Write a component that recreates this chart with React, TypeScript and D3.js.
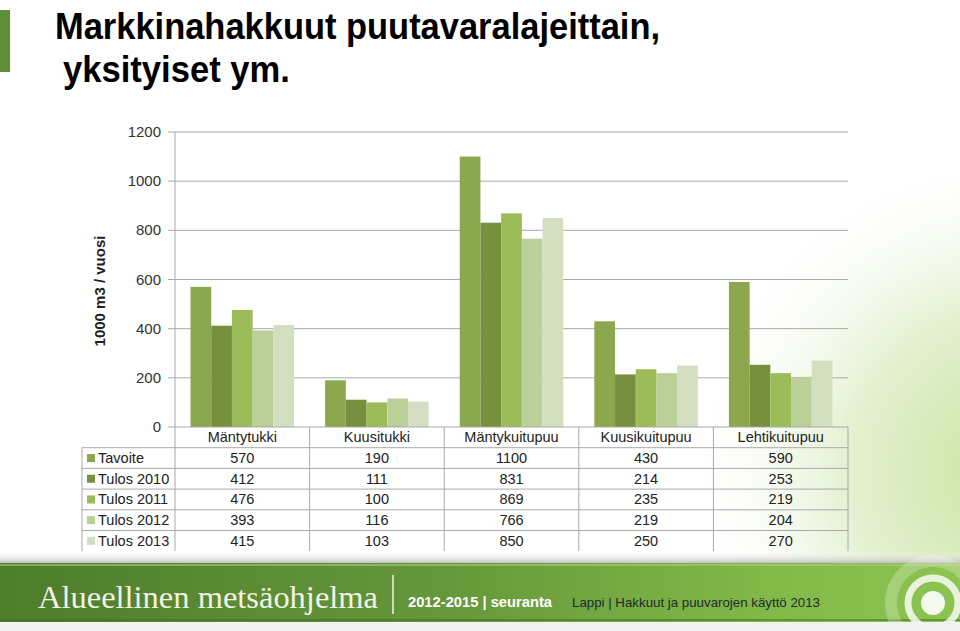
import React from "react";
import * as d3 from "d3";

const categories = ["Mäntytukki", "Kuusitukki", "Mäntykuitupuu", "Kuusikuitupuu", "Lehtikuitupuu"];
const seriesNames = ["Tavoite", "Tulos 2010", "Tulos 2011", "Tulos 2012", "Tulos 2013"];
const tavoite = [570, 190, 1100, 430, 590];
const tulos2010 = [412, 111, 831, 214, 253];
const tulos2011 = [476, 100, 869, 235, 219];
const tulos2012 = [393, 116, 766, 219, 204];
const tulos2013 = [415, 103, 850, 250, 270];
const seriesValues = [tavoite, tulos2010, tulos2011, tulos2012, tulos2013];
const seriesColors = ["#8BA84E", "#76903E", "#9CBC5A", "#BAD098", "#D3DFC0"];
const yTicks = [0, 200, 400, 600, 800, 1000, 1200];

const W = 960;
const H = 631;
const plotLeft = 175;
const plotRight = 848;
const plotTop = 132;
const plotBottom = 427;
const rowH = 20.7;
const tableLeft = 82;
const FONT = "'Liberation Sans', Arial, sans-serif";

export default function App() {
  const x = d3.scaleBand<string>().domain(categories).range([plotLeft, plotRight]);
  const xs = d3
    .scaleBand<string>()
    .domain(seriesNames)
    .range([0, x.bandwidth()])
    .paddingInner(0)
    .paddingOuter(0.75);
  const y = d3.scaleLinear().domain([0, 1200]).range([plotBottom, plotTop]);

  const tableBottom = plotBottom + rowH * 6;
  const gridColor = "#A9A9A9";

  return (
    <svg
      width={W}
      height={H}
      style={{ position: "absolute", left: 0, top: 0, fontFamily: FONT }}
    >
      <defs>
        <radialGradient id="bgGlow" cx="1010" cy="470" r="330" gradientUnits="userSpaceOnUse">
          <stop offset="0" stopColor="#C9E3A0" />
          <stop offset="0.5" stopColor="#E4F1D2" />
          <stop offset="1" stopColor="#FFFFFF" stopOpacity="0" />
        </radialGradient>
        <linearGradient id="footerGrad" x1="0" x2="1" y1="0" y2="0">
          <stop offset="0" stopColor="#4E7D2B" />
          <stop offset="0.45" stopColor="#65963A" />
          <stop offset="0.8" stopColor="#82B948" />
          <stop offset="1" stopColor="#8DC351" />
        </linearGradient>
        <linearGradient id="shadowGrad" x1="0" x2="0" y1="0" y2="1">
          <stop offset="0" stopColor="#FFFFFF" stopOpacity="0" />
          <stop offset="1" stopColor="#B8B8B8" />
        </linearGradient>
        <clipPath id="logoClip">
          <rect x={0} y={540} width={W} height={82} />
        </clipPath>
      </defs>

      <rect x={0} y={0} width={W} height={H} fill="#FFFFFF" />
      <rect x={0} y={0} width={W} height={H} fill="url(#bgGlow)" />

      {/* left accent bar */}
      <rect x={0} y={10} width={10} height={62} fill="#5E8E35" />

      {/* title */}
      <text x={55} y={39} fontSize={36} fontWeight="bold" fill="#000" textLength={605} lengthAdjust="spacingAndGlyphs">
        Markkinahakkuut puutavaralajeittain,
      </text>
      <text x={63} y={82} fontSize={36} fontWeight="bold" fill="#000" textLength={227} lengthAdjust="spacingAndGlyphs">
        yksityiset ym.
      </text>

      {/* gridlines */}
      {yTicks.filter((t) => t > 0).map((t) => (
        <line key={"g" + t} x1={plotLeft} x2={plotRight} y1={y(t)} y2={y(t)} stroke={gridColor} strokeWidth={1} />
      ))}

      {/* y ticks and labels */}
      {yTicks.map((t) => (
        <g key={"t" + t}>
          <line x1={plotLeft - 7} x2={plotLeft} y1={y(t)} y2={y(t)} stroke={gridColor} />
          <text x={161} y={y(t) + 5} fontSize={15} textAnchor="end" fill="#333">
            {t}
          </text>
        </g>
      ))}

      {/* y axis title */}
      <text
        transform={`translate(105, 291) rotate(-90)`}
        fontSize={15}
        fontWeight="bold"
        textAnchor="middle"
        fill="#222"
      >
        1000 m3 / vuosi
      </text>

      {/* bars */}
      {seriesValues.map((vals, si) =>
        vals.map((v, ci) => (
          <rect
            key={`b${si}-${ci}`}
            x={(x(categories[ci]) as number) + (xs(seriesNames[si]) as number)}
            y={y(v)}
            width={xs.bandwidth()}
            height={y(0) - y(v)}
            fill={seriesColors[si]}
          />
        ))
      )}

      {/* axis line */}
      <line x1={plotLeft} x2={plotLeft} y1={plotTop} y2={tableBottom} stroke={gridColor} />
      <line x1={plotLeft} x2={plotRight} y1={plotBottom} y2={plotBottom} stroke={gridColor} />

      {/* data table */}
      {categories.map((c, ci) => (
        <line
          key={"v" + ci}
          x1={(x(c) as number) + x.bandwidth()}
          x2={(x(c) as number) + x.bandwidth()}
          y1={plotBottom}
          y2={tableBottom}
          stroke={gridColor}
        />
      ))}
      <line x1={tableLeft} x2={tableLeft} y1={plotBottom + rowH} y2={tableBottom} stroke={gridColor} />
      {seriesNames.map((s, si) => (
        <line
          key={"h" + si}
          x1={tableLeft}
          x2={plotRight}
          y1={plotBottom + rowH * (si + 1)}
          y2={plotBottom + rowH * (si + 1)}
          stroke={gridColor}
        />
      ))}
      {categories.map((c) => (
        <text
          key={"c" + c}
          x={(x(c) as number) + x.bandwidth() / 2}
          y={plotBottom + rowH / 2 + 5}
          fontSize={14.5}
          textAnchor="middle"
          fill="#222"
        >
          {c}
        </text>
      ))}
      {seriesNames.map((s, si) => {
        const cy = plotBottom + rowH * (si + 1) + rowH / 2;
        return (
          <g key={"r" + s}>
            <rect x={87} y={cy - 4} width={8} height={8} fill={seriesColors[si]} />
            <text x={98} y={cy + 5} fontSize={14.5} fill="#222">
              {s}
            </text>
            {seriesValues[si].map((v, ci) => (
              <text
                key={"val" + ci}
                x={(x(categories[ci]) as number) + x.bandwidth() / 2}
                y={cy + 5}
                fontSize={14.5}
                textAnchor="middle"
                fill="#222"
              >
                {v}
              </text>
            ))}
          </g>
        );
      })}

      {/* footer */}
      <rect x={0} y={551} width={W} height={13} fill="url(#shadowGrad)" />
      <rect x={0} y={622} width={W} height={9} fill="#F2F2F2" />
      <rect x={0} y={563} width={W} height={59} fill="url(#footerGrad)" />
      <rect x={0} y={564} width={W} height={2} fill="#A8CF7C" opacity={0.6} />
      <rect x={0} y={619} width={W} height={2} fill="#3E6A1E" opacity={0.5} />

      <g clipPath="url(#logoClip)">
        <circle cx={933} cy={603} r={42} fill="none" stroke="#FFFFFF" strokeOpacity={0.25} strokeWidth={12} />
        <circle cx={933} cy={603} r={25} fill="none" stroke="#FFFFFF" strokeOpacity={0.8} strokeWidth={7} />
        <circle cx={933} cy={603} r={12} fill="#FFFFFF" fillOpacity={0.9} />
      </g>

      <text
        x={38}
        y={608}
        fontSize={31}
        fontFamily="'Liberation Serif', serif"
        fill="#F2F2E6"
        textLength={340}
        lengthAdjust="spacingAndGlyphs"
      >
        Alueellinen metsäohjelma
      </text>
      <line x1={393} x2={393} y1={575} y2={614} stroke="#F2F2E6" strokeWidth={1.5} />
      <text x={408} y={607} fontSize={14} fontWeight="bold" fill="#FFFFFF" textLength={144} lengthAdjust="spacingAndGlyphs">
        2012-2015 | seuranta
      </text>
      <text x={572} y={607} fontSize={13} fill="#1E2A2E" textLength={248} lengthAdjust="spacingAndGlyphs">
        Lappi | Hakkuut ja puuvarojen käyttö  2013
      </text>
    </svg>
  );
}
